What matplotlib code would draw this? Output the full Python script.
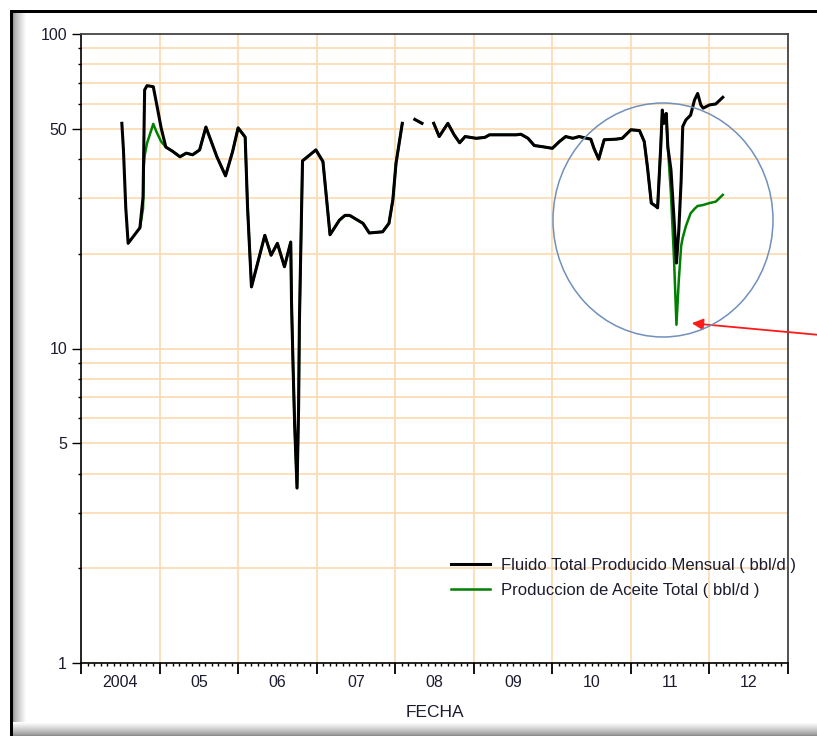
import numpy as np
import matplotlib
matplotlib.use("Agg")
import matplotlib.pyplot as plt
from matplotlib.patches import Ellipse, Rectangle
from matplotlib.ticker import FixedLocator, FuncFormatter, NullFormatter

nan = np.nan

# Fechas en años decimales
fechas = [2004.52, 2004.54, 2004.57, 2004.60, 2004.75, 2004.79, 2004.80, 2004.81, 2004.84, 2004.92,
          2004.96, 2005.02, 2005.08, 2005.17, 2005.26, 2005.34, 2005.42, 2005.51, 2005.59, 2005.73,
          2005.84, 2005.93, 2006.00, 2006.09, 2006.12, 2006.17, 2006.34, 2006.42, 2006.50, 2006.59,
          2006.67, 2006.68, 2006.70, 2006.72, 2006.75, 2006.77, 2006.78, 2006.80, 2006.82, 2006.99,
          2007.08, 2007.17, 2007.29, 2007.36, 2007.42, 2007.59, 2007.67, 2007.84, 2007.92, 2007.97,
          2008.01, 2008.09, 2008.17, 2008.25, 2008.34, 2008.42, 2008.49, 2008.56, 2008.67, 2008.75,
          2008.82, 2008.89, 2009.03, 2009.14, 2009.20, 2009.54, 2009.60, 2009.69, 2009.77, 2009.88,
          2010.00, 2010.09, 2010.17, 2010.26, 2010.34, 2010.49, 2010.53, 2010.59, 2010.66, 2010.81,
          2010.89, 2011.00, 2011.11, 2011.17, 2011.21, 2011.26, 2011.32, 2011.34, 2011.38, 2011.40,
          2011.42, 2011.45, 2011.47, 2011.51, 2011.55, 2011.58, 2011.61, 2011.64, 2011.66, 2011.70,
          2011.76, 2011.81, 2011.85, 2011.89, 2011.92, 2012.00, 2012.08, 2012.17]

# Fluido Total Producido Mensual (bbl/d)
fluido = [52, 43, 28, 21.6, 24.2, 30.3, 45, 66.4, 68.5, 68,
          60.4, 50.3, 43.7, 42.3, 40.7, 41.8, 41.3, 42.8, 50.6, 40.7,
          35.4, 42.3, 50.3, 47, 28.2, 15.7, 22.9, 19.8, 21.6, 18.2,
          21.8, 14, 8.7, 5.7, 3.6, 6.5, 12, 22, 39.5, 42.8,
          39.3, 23.0, 25.6, 26.5, 26.5, 25.0, 23.3, 23.5, 25.0, 29.7,
          38.8, 52, nan, 53.5, 52.0, nan, 52.0, 47.2, 52.0, 47.8,
          45.1, 47.2, 46.6, 46.9, 47.8, 47.8, 48, 46.6, 44.2, 43.8,
          43.3, 45.5, 47.2, 46.6, 47.2, 46.3, 43.3, 40, 46.1, 46.3,
          46.6, 49.6, 49.3, 45.5, 37.9, 29, 28.3, 28, 43.8, 57.3,
          52, 55.9, 43.8, 37, 25.6, 18.7, 23.8, 34.3, 50.8, 53.3,
          55.2, 61.7, 64.7, 59.5, 58.1, 59.5, 59.9, 62.9]

# Produccion de Aceite Total (bbl/d)
aceite = [nan, nan, nan, nan, 24.2, 27.9, 38.3, 41, 44.9, 51.8,
          48.9, 45.5, 43.7, 42.3, 40.7, 41.8, 41.3, 42.8, 50.6, 40.7,
          35.4, 42.3, 50.3, 47, 28.2, 15.7, 22.9, 19.8, 21.6, 18.2,
          21.8, 14, 8.7, 5.7, 3.6, 6.5, 12, 22, 39.5, 42.8,
          39.3, 23.0, 25.6, 26.5, 26.5, 25.0, 23.3, 23.5, 25.0, 29.7,
          38.8, 52, nan, 53.5, 52.0, nan, 52.0, 47.2, 52.0, 47.8,
          45.1, 47.2, 46.6, 46.9, 47.8, 47.8, 48, 46.6, 44.2, 43.8,
          43.3, 45.5, 47.2, 46.6, 47.2, 46.3, 43.3, 40, 46.1, 46.3,
          46.6, 49.6, 49.3, 45.5, 37.9, 29, 28.3, 28, 43.8, 57.3,
          52, 55.9, 43.8, 31, 19, 11.9, 16.5, 21.2, 22.5, 24.5,
          26.9, 27.8, 28.4, 28.5, 28.6, 29, 29.3, 30.8]

etiquetas_anio = ['2004', '05', '06', '07', '08', '09', '10', '11', '12']
anio_inicio = 2004

plt.rcParams['font.family'] = ['Liberation Sans', 'DejaVu Sans']
plt.rcParams['font.size'] = 11.5

W, H = 817, 736
fig = plt.figure(figsize=(W / 100, H / 100), dpi=100)
fig.patch.set_facecolor('white')
ax = fig.add_axes([81 / W, 1 - 663 / H, (788 - 81) / W, (663 - 34) / H])

color_grid = '#fcdcb4'

ax.plot(fechas, aceite, color='#008000', lw=1.8, zorder=3,
        label='Produccion de Aceite Total ( bbl/d )')
ax.plot(fechas, fluido, color='black', lw=2.2, zorder=4,
        label='Fluido Total Producido Mensual ( bbl/d )')

# Eje Y logaritmico
ax.set_yscale('log')
ax.set_ylim(1, 100)
ax.yaxis.set_major_locator(FixedLocator([1, 5, 10, 50, 100]))
ax.yaxis.set_major_formatter(FuncFormatter(lambda v, p: f"{v:g}"))
ax.yaxis.set_minor_locator(FixedLocator([2, 3, 4, 6, 7, 8, 9, 20, 30, 40, 60, 70, 80, 90]))
ax.yaxis.set_minor_formatter(NullFormatter())

# Eje X: años, con marcas mensuales
n_anios = len(etiquetas_anio)
ax.set_xlim(anio_inicio, anio_inicio + n_anios)
ax.xaxis.set_major_locator(FixedLocator([anio_inicio + i for i in range(n_anios + 1)]))
ax.xaxis.set_major_formatter(NullFormatter())
ax.xaxis.set_minor_locator(FixedLocator([anio_inicio + k / 12 for k in range(n_anios * 12 + 1)]))


def etiqueta_mes(v, p):
    k = int(round((v - anio_inicio) * 12))
    if k % 12 == 6 and k // 12 < n_anios:
        return etiquetas_anio[k // 12]
    return ''


ax.xaxis.set_minor_formatter(FuncFormatter(etiqueta_mes))

color_txt = '#1c1c30'
ax.tick_params(axis='y', which='major', length=6.5, width=1.0, pad=3.5, labelcolor=color_txt)
ax.tick_params(axis='y', which='minor', length=2.3, width=1.0)
ax.tick_params(axis='x', which='major', length=8, width=1.3)
ax.tick_params(axis='x', which='minor', length=2.5, width=1.0, pad=6, labelcolor=color_txt)

ax.grid(True, which='both', axis='y', color=color_grid, lw=1.3, zorder=0)
ax.grid(True, which='major', axis='x', color=color_grid, lw=1.3, zorder=0)
ax.set_axisbelow(True)

for s in ['left', 'bottom']:
    ax.spines[s].set_linewidth(1.2)
    ax.spines[s].set_color('black')
for s in ['top', 'right']:
    ax.spines[s].set_linewidth(1.3)
    ax.spines[s].set_color('#454545')

ax.set_xlabel('FECHA', color=color_txt, fontsize=12.5)
ax.xaxis.set_label_coords(0.5, -0.066)

# Leyenda sin marco, orden: fluido arriba
h, l = ax.get_legend_handles_labels()
leg = ax.legend(h[::-1], l[::-1], loc='upper left', bbox_to_anchor=(0.524, 0.167),
                frameon=False, borderpad=0, borderaxespad=0, handlelength=2.3,
                handletextpad=0.7, labelspacing=0.62, fontsize=12)
for t in leg.get_texts():
    t.set_color(color_txt)

# Circulo y flecha roja
fig.add_artist(Ellipse((663 / W, 1 - 220 / H), 220 / W, 234 / H, transform=fig.transFigure,
                       fill=False, ec='#7090bb', lw=1.1, zorder=10))
ax.annotate('', xy=(689, H - 323), xycoords='figure pixels', xytext=(820, H - 335),
            textcoords='figure pixels', annotation_clip=False,
            arrowprops=dict(arrowstyle='-|>', color='#ff1a1a', lw=1.3, mutation_scale=17))

# Marco de la captura: bordes negros y sombra gris
fig.add_artist(Rectangle((10 / W, 1 - 13 / H), 1, 3 / H, transform=fig.transFigure,
                         color='black', lw=0))
fig.add_artist(Rectangle((10 / W, 0), 3 / W, 1 - 10 / H, transform=fig.transFigure,
                         color='black', lw=0))
for i in range(14):
    g = 0.6 + 0.4 * (i / 13) ** 0.7
    fig.add_artist(Rectangle(((13 + i) / W, 0), 1 / W, 1 - 13 / H, transform=fig.transFigure,
                             color=(g, g, g), lw=0))
for i in range(14):
    g = 0.55 + 0.45 * (i / 13) ** 0.8
    fig.add_artist(Rectangle((13 / W, i / H), 1, 1 / H, transform=fig.transFigure,
                             color=(g, g, g), lw=0))

fig.savefig('out.png', dpi=100, facecolor='white')
